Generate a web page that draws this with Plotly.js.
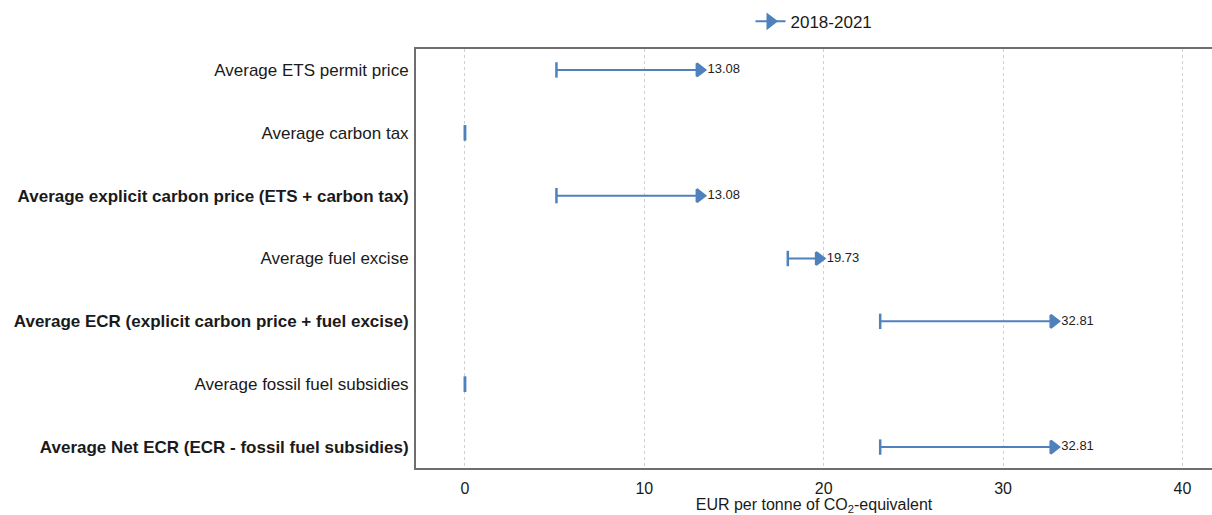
<!DOCTYPE html>
<html>
<head>
<meta charset="utf-8">
<script src="https://cdn.plot.ly/plotly-3.0.1.min.js"></script>
<style>html,body{margin:0;padding:0;background:#fff;}#chart{width:1212px;height:515px;}</style>
</head>
<body>
<div id="chart"></div>
<script>
// ---- data ----
const categories = [
  "Average ETS permit price",
  "Average carbon tax",
  "Average explicit carbon price (ETS + carbon tax)",
  "Average fuel excise",
  "Average ECR (explicit carbon price + fuel excise)",
  "Average fossil fuel subsidies",
  "Average Net ECR (ECR - fossil fuel subsidies)"
];
const emphasized = [false, false, true, false, true, false, true];
const value2018 = [5.1, 0, 5.1, 18.0, 23.15, 0, 23.15];
const value2021 = [13.08, 0, 13.08, 19.73, 32.81, 0, 32.81];
const seriesName = "2018-2021";
const xTicks = [0, 10, 20, 30, 40];

// ---- build arrow trace ----
const blue = "#4F81BD";
const xs = [], ys = [], syms = [];
const lx = [], ly = [], lt = [];
categories.forEach((c, i) => {
  const zero = value2018[i] === value2021[i];
  xs.push(value2021[i], value2018[i], null);
  ys.push(i, i, null);
  syms.push(zero ? "line-ns-open" : "triangle-right", "line-ns-open", "line-ns-open");
  if (!zero) { lx.push(value2021[i]); ly.push(i); lt.push(value2021[i].toFixed(2)); }
});

const arrows = {
  type: "scatter",
  mode: "lines+markers",
  name: seriesName,
  x: xs, y: ys,
  connectgaps: false,
  line: {color: blue, width: 2},
  marker: {symbol: syms, size: 11, color: blue, line: {color: blue, width: 2.5}},
  cliponaxis: false
};
const labels = {
  type: "scatter",
  mode: "markers+text",
  x: lx, y: ly, text: lt,
  marker: {size: 11, color: "rgba(0,0,0,0)"},
  textposition: "middle right",
  textfont: {family: "Liberation Sans, Arial, sans-serif", size: 13, color: "#222"},
  showlegend: false,
  cliponaxis: false
};

const layout = {
  width: 1212, height: 515,
  margin: {l: 416, r: 0, t: 49, b: 47},
  paper_bgcolor: "#fff", plot_bgcolor: "#fff",
  font: {family: "Liberation Sans, Arial, sans-serif", size: 17, color: "#1a1a1a"},
  showlegend: true,
  legend: {orientation: "h", x: 0.5, xanchor: "center", y: 1.065, yanchor: "middle",
           font: {size: 17, color: "#1a1a1a"}, itemwidth: 30},
  xaxis: {
    range: [-2.73, 41.65],
    tickvals: xTicks,
    ticktext: xTicks.map(String),
    showgrid: true, gridcolor: "#cfcfcf", griddash: "dot", gridwidth: 1,
    zeroline: false,
    showline: true, linecolor: "#6e6e6e", linewidth: 2, mirror: true,
    ticks: "", ticklabelstandoff: 5,
    tickfont: {size: 16, color: "#1a1a1a"},
    title: {text: "EUR per tonne of CO<sub>2</sub>-equivalent", font: {size: 16, color: "#1a1a1a"}, standoff: 4}
  },
  yaxis: {
    range: [6.333, -0.333],
    tickvals: categories.map((c, i) => i),
    ticktext: categories.map((c, i) => emphasized[i] ? "<b>" + c + "</b>" : c),
    showgrid: false, zeroline: false,
    showline: true, linecolor: "#6e6e6e", linewidth: 2, mirror: false,
    ticks: "", ticklabelstandoff: 2,
    tickfont: {size: 17, color: "#1a1a1a"}
  }
};

Plotly.newPlot("chart", [arrows, labels], layout, {displayModeBar: false, staticPlot: true});
</script>
</body>
</html>
